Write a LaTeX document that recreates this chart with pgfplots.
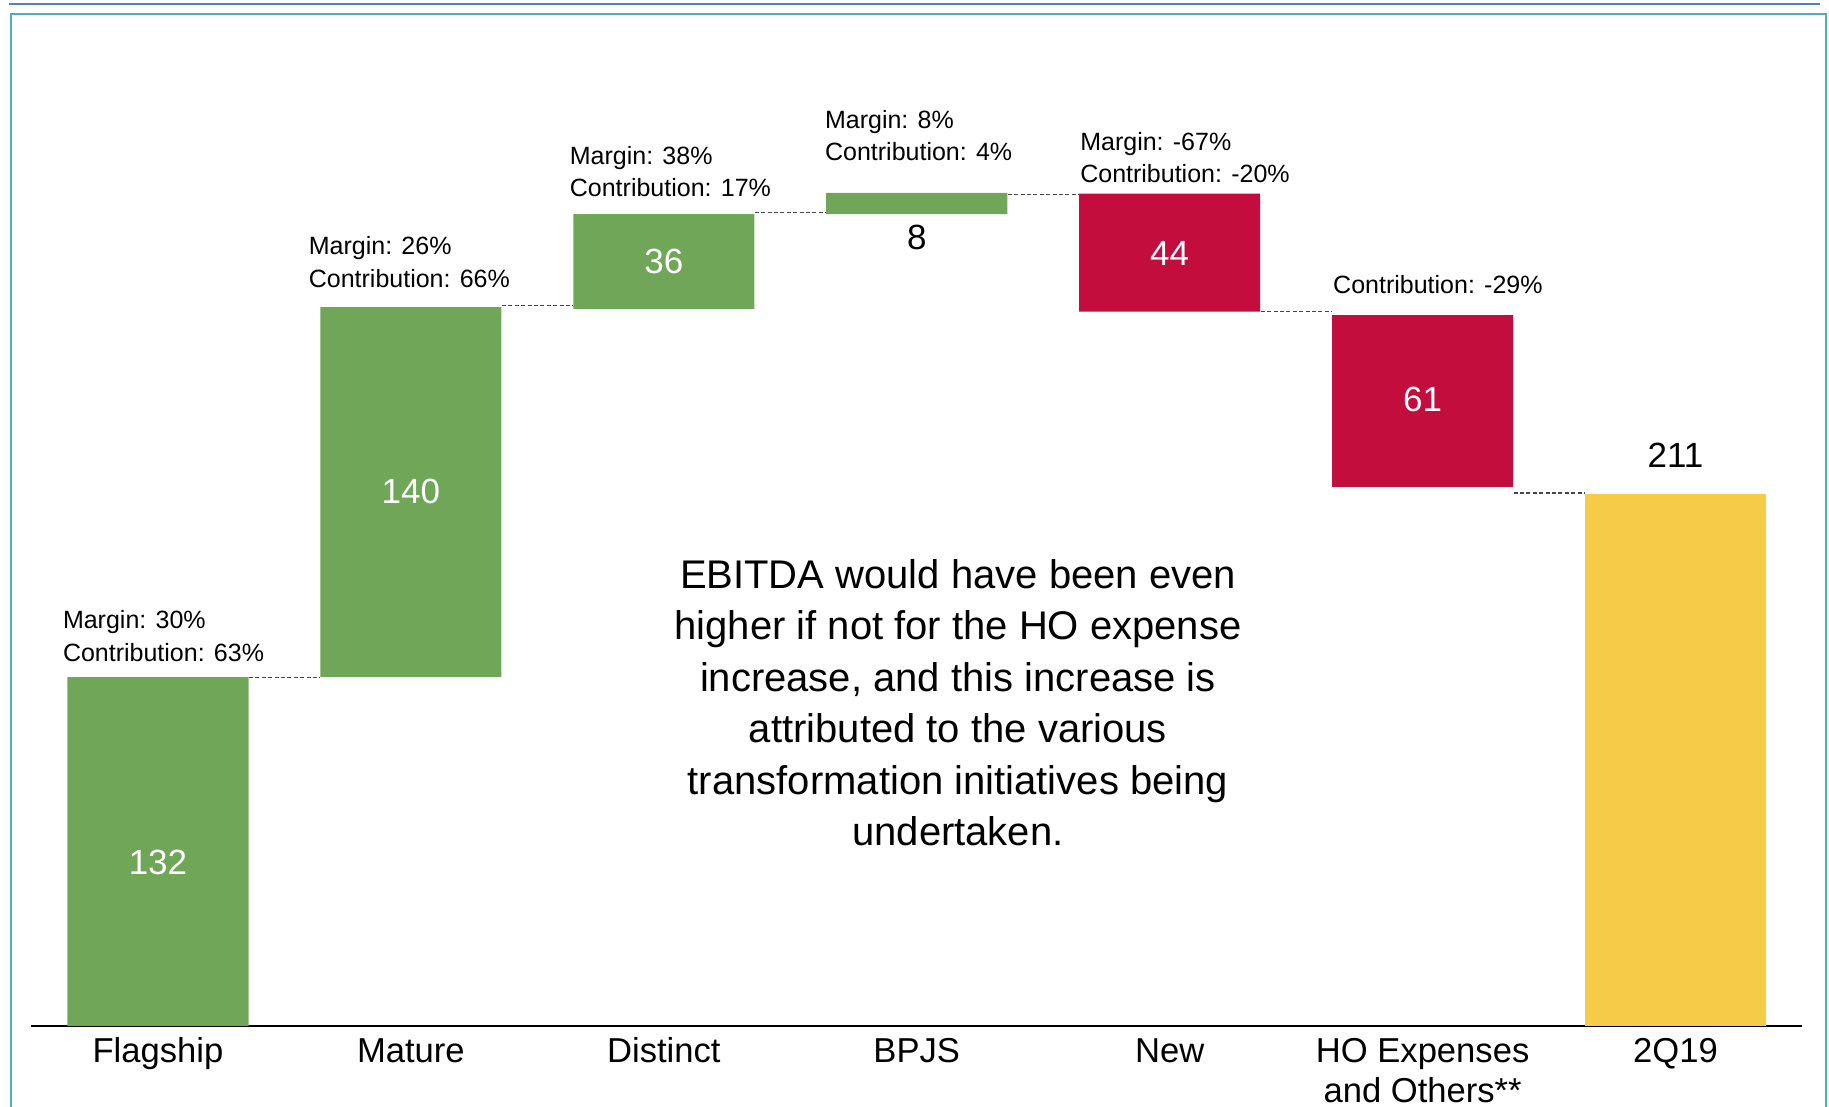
\documentclass[border=0pt]{standalone}
\usepackage{fontspec}
\setmainfont{Liberation Sans}
\usepackage{pgfplots}
\pgfplotsset{compat=1.18}

\definecolor{gbar}{HTML}{70A658}
\definecolor{rbar}{HTML}{C30D3D}
\definecolor{yelbar}{HTML}{F5CB47}
\definecolor{frameblue}{HTML}{4BACC6}
\definecolor{topblue}{HTML}{4F81BD}

\newcommand{\annfont}{\fontsize{12.5}{15}\selectfont}
\newcommand{\valfont}{\fontsize{17.5}{20}\selectfont}

\pgfplotsset{wf/.style={
  width=885.25pt, height=512.7pt, scale only axis,
  at={(15.75pt,40.5pt)}, anchor=south west,
  xmin=-0.5, xmax=6.5, ymin=0, ymax=388, clip=false},
  conn/.style={gray!55!black, line width=0.6pt, dash pattern=on 2pt off 1.2pt}}

\begin{document}
\begin{tikzpicture}
\useasboundingbox (0,0) rectangle (914.5pt,553.5pt);
% frame
\draw[frameblue, line width=0.8pt] (5.5pt,-5pt) -- (5.5pt,546.5pt) -- (913pt,546.5pt) -- (913pt,-5pt);
\draw[topblue, line width=1.1pt] (4.5pt,551.5pt) -- (910pt,551.5pt);

\begin{axis}[wf,
  ybar stacked, bar width=0.716,
  axis x line*=bottom, axis y line=none,
  x axis line style={-, black, line width=1pt},
  xtick={0,...,6}, major tick length=0pt,
  xticklabels={Flagship, Mature, Distinct, BPJS, New,
    {\begin{tabular}[t]{@{}c@{}}HO Expenses\\and Others**\end{tabular}}, 2Q19},
  xticklabel style={font=\fontsize{17.3}{19.75}\selectfont, anchor=base, yshift=-18.35pt},
]
% invisible base of the floating bars
\addplot[draw=none, fill=none] coordinates {(0,0) (1,132) (2,271.3) (3,307.2) (4,270.3) (5,204) (6,0)};
\addplot[draw=none, fill=gbar] coordinates {(0,132) (1,140) (2,35.9) (3,8) (4,0) (5,0) (6,0)};
\addplot[draw=none, fill=rbar] coordinates {(0,0) (1,0) (2,0) (3,0) (4,44.7) (5,65) (6,0)};
\addplot[draw=none, fill=yelbar] coordinates {(0,0) (1,0) (2,0) (3,0) (4,0) (5,0) (6,201.3)};
\end{axis}

% connectors and text, drawn over the bars
\begin{axis}[wf, hide axis]
\addplot[conn] coordinates {(0.36,132) (0.64,132)};
\addplot[conn] coordinates {(1.36,272.5) (1.64,272.5)};
\addplot[conn] coordinates {(2.36,307.8) (2.64,307.8)};
\addplot[conn] coordinates {(3.36,314.5) (3.64,314.5)};
\addplot[conn] coordinates {(4.36,270.3) (4.64,270.3)};
\addplot[conn] coordinates {(5.36,201.7) (5.64,201.7)};

% value labels
\node[white, font=\valfont] at (axis cs:0,61.7) {132};
\node[white, font=\valfont] at (axis cs:1,202.4) {140};
\node[white, font=\valfont] at (axis cs:2,289.2) {36};
\node[black, font=\valfont] at (axis cs:3,298.2) {8};
\node[white, font=\valfont] at (axis cs:4,292.3) {44};
\node[white, font=\valfont] at (axis cs:5,236.9) {61};
\node[black, font=\valfont] at (axis cs:6,216) {211};

% margin / contribution notes
\node[anchor=base west, inner sep=0, font=\annfont] at (axis cs:-0.377,150.5) {Margin: 30\%};
\node[anchor=base west, inner sep=0, font=\annfont] at (axis cs:-0.377,138.1) {Contribution: 63\%};
\node[anchor=base west, inner sep=0, font=\annfont] at (axis cs:0.595,292.0) {Margin: 26\%};
\node[anchor=base west, inner sep=0, font=\annfont] at (axis cs:0.595,279.6) {Contribution: 66\%};
\node[anchor=base west, inner sep=0, font=\annfont] at (axis cs:1.627,326.1) {Margin: 38\%};
\node[anchor=base west, inner sep=0, font=\annfont] at (axis cs:1.627,313.7) {Contribution: 17\%};
\node[anchor=base west, inner sep=0, font=\annfont] at (axis cs:2.636,339.7) {Margin: 8\%};
\node[anchor=base west, inner sep=0, font=\annfont] at (axis cs:2.636,327.3) {Contribution: 4\%};
\node[anchor=base west, inner sep=0, font=\annfont] at (axis cs:3.645,331.4) {Margin: -67\%};
\node[anchor=base west, inner sep=0, font=\annfont] at (axis cs:3.645,319.0) {Contribution: -20\%};
\node[anchor=base west, inner sep=0, font=\annfont] at (axis cs:4.645,277.3) {Contribution: -29\%};

% comment box
\node[align=center, font=\fontsize{20}{25.7}\selectfont] at (axis cs:3.163,122.3)
  {EBITDA would have been even\\higher if not for the HO expense\\increase, and this increase is\\attributed to the various\\transformation initiatives being\\undertaken.};
\end{axis}
\end{tikzpicture}
\end{document}
